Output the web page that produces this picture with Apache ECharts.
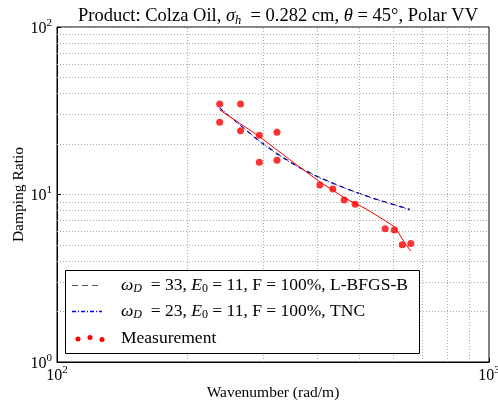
<!DOCTYPE html>
<html><head><meta charset="utf-8">
<script src="https://cdn.jsdelivr.net/npm/echarts@6/dist/echarts.min.js"></script>
<style>html,body{margin:0;padding:0;background:#fff}#c{width:498px;height:405px}</style>
</head><body><div id="c"></div>
<script>
// Measurement points (wavenumber rad/m, damping ratio)
const measX = [238, 238, 266, 266, 294, 294, 323, 323, 406, 435, 462, 490, 575, 604, 630, 659];
const measY = [34.7, 27.0, 34.7, 24.0, 22.6, 15.6, 23.5, 16.0, 11.4, 10.8, 9.27, 8.74, 6.25, 6.14, 5.02, 5.09];
// Red fit through measurement
const fitX = [238, 294, 359, 406, 462, 521, 575, 604, 622, 639, 659];
const fitY = [32.0, 22.2, 15.0, 11.9, 9.57, 8.16, 6.97, 6.42, 5.73, 5.11, 4.60];
// L-BFGS-B model (black dashed)
const lbfgsX = [238, 254, 292, 323, 359, 399, 436, 477, 540, 590, 656];
const lbfgsY = [32.7, 28.5, 21.2, 17.6, 14.8, 12.9, 11.67, 10.64, 9.49, 8.86, 8.17];
// TNC model (blue dash-dot)
const tncX = [238, 254, 292, 323, 359, 399, 436, 477, 540, 590, 656];
const tncY = [33.0, 28.6, 21.0, 17.4, 14.7, 12.8, 11.6, 10.6, 9.45, 8.8, 8.1];
// Minor grid values
const xMinor = [200, 300, 400, 500, 600, 700, 800, 900];
const yMinor = [2, 3, 4, 5, 6, 7, 8, 9, 20, 30, 40, 50, 60, 70, 80, 90];
const legendNames = ['L-BFGS-B', 'TNC', 'Measurement'];

const F = 'Liberation Serif, Times New Roman, serif';
const pair = (xs, ys) => xs.map((x, i) => [x, ys[i]]);
const supRich = {
  b: {fontFamily: F, fontSize: 16, lineHeight: 19, verticalAlign: 'bottom', color: '#000'},
  sup: {fontFamily: F, fontSize: 11, lineHeight: 11, verticalAlign: 'top', color: '#000'}
};
const logLabel = v => '{b|10}{sup|' + Math.round(Math.log10(v)) + '}';
const LS = 17.5;
const txtRich = {
  n: {fontFamily: F, fontSize: LS, lineHeight: 19, verticalAlign: 'top', color: '#000'},
  i: {fontFamily: F, fontSize: LS, lineHeight: 19, verticalAlign: 'top', fontStyle: 'italic', color: '#000'},
  sub: {fontFamily: F, fontSize: 12, lineHeight: 12, verticalAlign: 'bottom', fontStyle: 'italic', color: '#000'},
  subn: {fontFamily: F, fontSize: 12, lineHeight: 12, verticalAlign: 'bottom', color: '#000'}
};
const titleRich = {
  n: {fontFamily: F, fontSize: 18.5, lineHeight: 20, verticalAlign: 'top', color: '#000'},
  i: {fontFamily: F, fontSize: 18.5, lineHeight: 20, verticalAlign: 'top', fontStyle: 'italic', color: '#000'},
  sub: {fontFamily: F, fontSize: 12.5, lineHeight: 12, verticalAlign: 'bottom', fontStyle: 'italic', color: '#000'}
};
const gridLine = {color: '#aaaaaa', type: [1, 2], width: 1};

const chart = echarts.init(document.getElementById('c'), null, {renderer: 'canvas'});
chart.setOption({
  animation: false,
  backgroundColor: '#fff',
  title: {
    text: '{n|Product: Colza Oil, }{i|σ}{sub|h}{n|  = 0.282 cm, }{i|θ}{n| = 45°, Polar VV}',
    left: 273, top: 2, textAlign: 'center',
    textStyle: {rich: titleRich, fontFamily: F, fontSize: 18.5, fontWeight: 'normal'}
  },
  grid: {left: 57, top: 27, right: 9, bottom: 43, show: true, borderColor: '#000', borderWidth: 1,
         backgroundColor: 'transparent', containLabel: false, outerBoundsMode: 'none'},
  xAxis: {
    type: 'log', logBase: 10, min: 100, max: 1000,
    name: 'Wavenumber (rad/m)', nameLocation: 'middle', nameGap: 23, nameMoveOverlap: false,
    nameTextStyle: {fontFamily: F, fontSize: 15.5, color: '#000'},
    axisLine: {show: true, lineStyle: {color: '#000'}},
    axisTick: {show: true, inside: true, length: 4, lineStyle: {color: '#000'}},
    axisLabel: {formatter: logLabel, rich: supRich, margin: 3, color: '#000'},
    splitLine: {show: false}
  },
  yAxis: {
    type: 'log', logBase: 10, min: 1, max: 100,
    name: 'Damping Ratio', nameLocation: 'middle', nameGap: 30, nameMoveOverlap: false,
    nameTextStyle: {fontFamily: F, fontSize: 15.5, color: '#000'},
    axisLine: {show: true, lineStyle: {color: '#000'}},
    axisTick: {show: true, inside: true, length: 4, lineStyle: {color: '#000'}},
    axisLabel: {formatter: logLabel, rich: supRich, margin: 5, color: '#000'},
    splitLine: {show: true, lineStyle: gridLine}
  },
  series: [
    {
      name: 'grid', type: 'line', data: [], silent: true,
      markLine: {
        silent: true, symbol: 'none', label: {show: false},
        lineStyle: gridLine,
        data: xMinor.map(v => ({xAxis: v})).concat(yMinor.map(v => ({yAxis: v})))
      }
    },
    {name: legendNames[0], type: 'line', data: pair(lbfgsX, lbfgsY), showSymbol: false, smooth: false,
     lineStyle: {color: '#000', width: 1, type: [5, 4]}, z: 3},
    {name: legendNames[1], type: 'line', data: pair(tncX, tncY), showSymbol: false, smooth: false,
     lineStyle: {color: '#0000ff', width: 1, type: [4, 2, 1, 2]}, z: 4},
    {name: 'fit', type: 'line', data: pair(fitX, fitY), showSymbol: false, smooth: false,
     lineStyle: {color: '#ff0000', width: 1}, z: 5},
    {name: legendNames[2], type: 'scatter', data: pair(measX, measY), symbol: 'circle', symbolSize: 7,
     itemStyle: {color: '#ff0000'}, z: 6}
  ],
  graphic: [
    {type: 'rect', shape: {x: 65.5, y: 270.5, width: 354, height: 83}, style: {fill: '#fff', stroke: '#000', lineWidth: 1}, z: 100},
    {type: 'line', shape: {x1: 72, y1: 285.5, x2: 102, y2: 285.5}, style: {stroke: '#555', lineWidth: 1.2, lineDash: [6, 4]}, z: 101},
    {type: 'line', shape: {x1: 72, y1: 311.5, x2: 102, y2: 311.5}, style: {stroke: '#0000ff', lineWidth: 1.3, lineDash: [4, 2, 1, 2]}, z: 101},
    {type: 'circle', shape: {cx: 78, cy: 339, r: 2.5}, style: {fill: '#ff0000'}, z: 101},
    {type: 'circle', shape: {cx: 90, cy: 337.5, r: 2.5}, style: {fill: '#ff0000'}, z: 101},
    {type: 'circle', shape: {cx: 102, cy: 339.5, r: 2.5}, style: {fill: '#ff0000'}, z: 101},
    {type: 'text', x: 121, y: 276, z: 101,
     style: {text: '{i|ω}{sub|D}{n|  = 33, }{i|E}{subn|0}{n| = 11, F = 100%, ' + legendNames[0] + '}', rich: txtRich, font: LS + 'px ' + F}},
    {type: 'text', x: 121, y: 302, z: 101,
     style: {text: '{i|ω}{sub|D}{n|  = 23, }{i|E}{subn|0}{n| = 11, F = 100%, ' + legendNames[1] + '}', rich: txtRich, font: LS + 'px ' + F}},
    {type: 'text', x: 121, y: 329, z: 101,
     style: {text: '{n|' + legendNames[2] + '}', rich: txtRich, font: LS + 'px ' + F}}
  ]
});
</script></body></html>
